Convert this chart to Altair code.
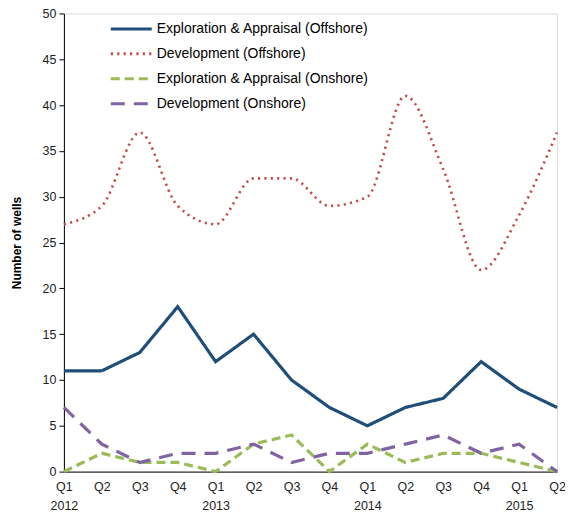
import altair as alt
import pandas as pd

quarters = ["Q1", "Q2", "Q3", "Q4", "Q1", "Q2", "Q3", "Q4", "Q1", "Q2", "Q3", "Q4", "Q1", "Q2"]
years = ["2012", "", "", "", "2013", "", "", "", "2014", "", "", "", "2015", ""]

series_names = [
    "Exploration & Appraisal (Offshore)",
    "Development  (Offshore)",
    "Exploration & Appraisal (Onshore)",
    "Development (Onshore)",
]
ea_offshore = [11, 11, 13, 18, 12, 15, 10, 7, 5, 7, 8, 12, 9, 7]
dev_offshore = [27, 29, 37, 29, 27, 32, 32, 29, 30, 41, 33, 22, 28, 37]
ea_onshore = [0, 2, 1, 1, 0, 3, 4, 0, 3, 1, 2, 2, 1, 0]
dev_onshore = [7, 3, 1, 2, 2, 3, 1, 2, 2, 3, 4, 2, 3, 0]

colors = ["#1F4E79", "#C0504D", "#9BBB59", "#8064A2"]
dashes = [[1, 0], [2.2, 4.2], [9, 5], [14, 9]]

rows = []
for name, vals in zip(series_names, [ea_offshore, dev_offshore, ea_onshore, dev_onshore]):
    for i, v in enumerate(vals):
        rows.append({"series": name, "idx": i, "value": v})
df = pd.DataFrame(rows)

q_js = "[" + ",".join("'%s'" % q for q in quarters) + "]"
y_js = "[" + ",".join("'%s'" % y for y in years) + "]"
label_expr = "[%s[datum.value], %s[datum.value]]" % (q_js, y_js)

x_enc = alt.X(
    "idx:Q",
    scale=alt.Scale(domain=[0, len(quarters) - 1], nice=False, zero=False),
    axis=alt.Axis(
        values=list(range(len(quarters))),
        labelExpr=label_expr,
        title=None,
        grid=False,
        ticks=False,
        labelPadding=9,
        labelLineHeight=19,
        domainColor="#000000",
        labelFontSize=12.5,
        labelColor="#222222",
        labelAngle=0,
        labelFlush=False,
        labelOverlap=False,
    ),
)
y_enc = alt.Y(
    "value:Q",
    scale=alt.Scale(domain=[0, 50], nice=False),
    axis=alt.Axis(
        values=list(range(0, 51, 5)),
        title="Number of wells",
        titleFontWeight="bold",
        titleFontSize=12,
        titleColor="#000000",
        titlePadding=19,
        grid=False,
        tickSize=5,
        tickColor="#000000",
        domainColor="#000000",
        labelFontSize=12.5,
        labelColor="#222222",
        labelPadding=3,
    ),
)
legend_cfg = dict(
    title=None,
    orient="none",
    legendX=56,
    legendY=4,
    symbolType="M-2.05,0H2.05",
    symbolSize=400,
    symbolStrokeWidth=3,
    labelFontSize=14,
    labelColor="#000000",
    rowPadding=6,
    labelOffset=14,
    labelLimit=400,
)
color_enc = alt.Color(
    "series:N",
    scale=alt.Scale(domain=series_names, range=colors),
    sort=series_names,
    legend=alt.Legend(**legend_cfg),
)
dash_enc = alt.StrokeDash(
    "series:N",
    scale=alt.Scale(domain=series_names, range=dashes),
    sort=series_names,
    legend=alt.Legend(**legend_cfg),
)

base = alt.Chart(df)
straight = base.transform_filter(
    alt.datum.series != series_names[1]
).mark_line(strokeWidth=3.2).encode(x=x_enc, y=y_enc, color=color_enc, strokeDash=dash_enc, detail="series:N")
smooth = base.transform_filter(
    alt.datum.series == series_names[1]
).mark_line(strokeWidth=2.6, interpolate="monotone").encode(x=x_enc, y=y_enc, color=color_enc, strokeDash=dash_enc, detail="series:N")

chart = (
    alt.layer(smooth, straight)
    .properties(
        width=494,
        height=459,
        autosize=alt.AutoSizeParams(type="none"),
        padding={"left": 56, "top": 5, "right": 8, "bottom": 40},
    )
    .configure_view(stroke=None)
    .configure(font="Liberation Sans")
)

chart.save("out.html", embed_options={"renderer": "svg", "actions": False})
